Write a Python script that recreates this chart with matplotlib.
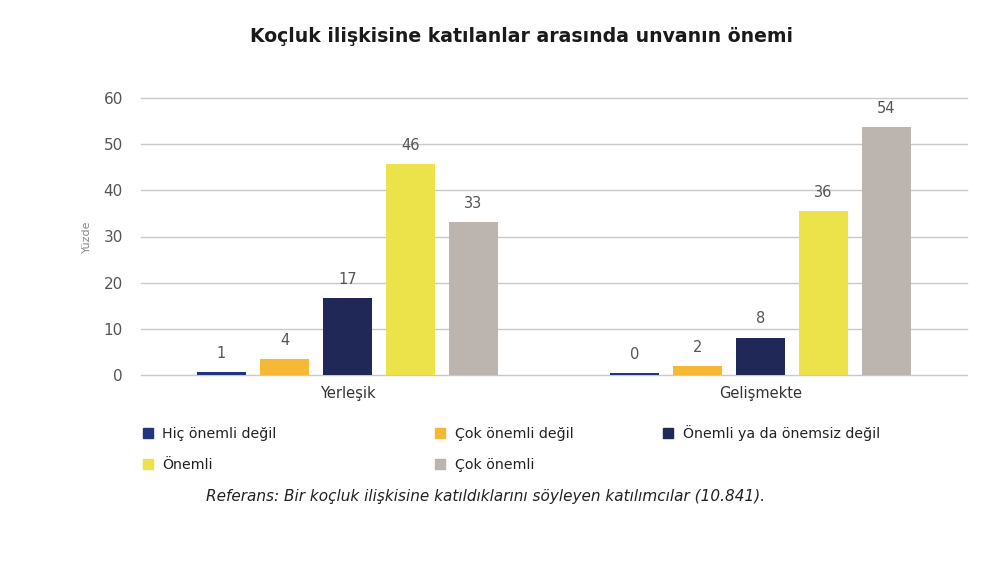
import matplotlib
matplotlib.use('Agg')
import matplotlib.pyplot as plt
from matplotlib.patches import Patch
import numpy as np

# ── Data ───────────────────────────────────────────────────
categories = ['Yerleşik', 'Gelişmekte']
series = ['Hiç önemli değil', 'Çok önemli değil', 'Önemli ya da önemsiz değil',
          'Önemli', 'Çok önemli']
values = [
    [0.65, 0.35],    # Hiç önemli değil
    [3.5, 2.0],      # Çok önemli değil
    [16.7, 8.1],     # Önemli ya da önemsiz değil
    [45.7, 35.5],    # Önemli
    [33.1, 53.7],    # Çok önemli
]
value_labels = [
    ['1', '0'],
    ['4', '2'],
    ['17', '8'],
    ['46', '36'],
    ['33', '54'],
]
yticks = [0, 10, 20, 30, 40, 50, 60]

colors = ['#243580', '#f6b935', '#1f2857', '#ece24a', '#bbb4af']

# ── Figure ─────────────────────────────────────────────────
plt.rcParams['font.family'] = ['DejaVu Sans']
fig = plt.figure(figsize=(9.96, 5.62), dpi=100)
ax = fig.add_axes([141 / 996, 1 - 375 / 562, 826 / 996, 277 / 562])

x = np.arange(len(categories))
width = 0.119
step = 0.1525
for i, (name, vals) in enumerate(zip(series, values)):
    pos = x + (i - 2) * step
    bars = ax.bar(pos, vals, width=width, color=colors[i], zorder=3, label=name)
    for b, lab in zip(bars, value_labels[i]):
        ax.annotate(lab, (b.get_x() + b.get_width() / 2, b.get_height()),
                    xytext=(0, 8), textcoords='offset points',
                    ha='center', va='bottom', fontsize=10.5, color='#555555')

ax.set_xlim(-0.5, 1.5)
ax.set_ylim(0, 60)
ax.set_yticks(yticks)
ax.set_xticks(x)
ax.set_xticklabels(categories, fontsize=10.5, color='#333333')
ax.tick_params(axis='y', length=0, pad=13, labelsize=11, labelcolor='#555555')
ax.tick_params(axis='x', length=0, pad=8)
ax.grid(axis='y', color='#c9c9c9', linewidth=1, zorder=0)
for gl in ax.get_ygridlines():
    gl.set_clip_on(False)
for s in ax.spines.values():
    s.set_visible(False)
ax.set_ylabel('Yüzde', fontsize=8, color='#888888', labelpad=8)

fig.text(521 / 996, 1 - 37 / 562, 'Koçluk ilişkisine katılanlar arasında unvanın önemi',
         ha='center', va='center', fontsize=13.6, fontweight='bold', color='#1a1a1a')

# ── Legend (three columns placed by hand) ──────────────────
handles = [Patch(color=c, label=s) for c, s in zip(colors, series)]
groups = [([0, 3], 137, 421), ([1, 4], 429, 421), ([2], 657, 419)]
for idx, xpix, ypix in groups:
    fig.legend([handles[k] for k in idx], [series[k] for k in idx],
               loc='upper left', bbox_to_anchor=(xpix / 996, 1 - ypix / 562),
               frameon=False, fontsize=10.2, handlelength=0.7, handleheight=0.7,
               handletextpad=0.7, labelspacing=1.2, borderaxespad=0,
               labelcolor='#222222')

fig.text(486 / 996, 1 - 497 / 562,
         'Referans: Bir koçluk ilişkisine katıldıklarını söyleyen katılımcılar (10.841).',
         ha='center', va='center', fontsize=11, style='italic', color='#222222')

fig.savefig('out.png', dpi=100)
